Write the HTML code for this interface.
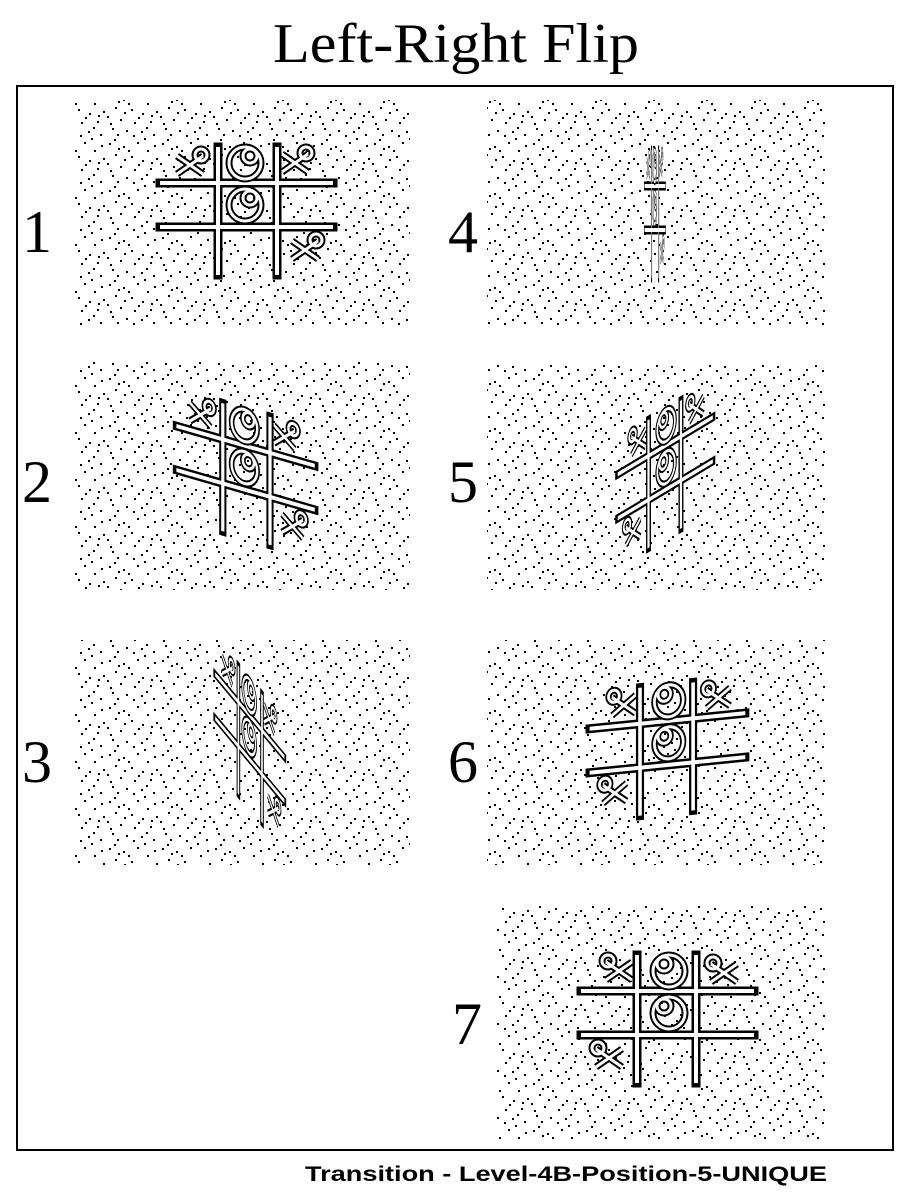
<!DOCTYPE html>
<html><head><meta charset="utf-8"><style>
html,body{margin:0;padding:0;background:#fff;width:912px;height:1200px;overflow:hidden}
</style></head><body>
<svg width="912" height="1200" viewBox="0 0 912 1200" xmlns="http://www.w3.org/2000/svg">
<defs>
<pattern id="st" width="53" height="47" patternUnits="userSpaceOnUse">
<g fill="#000">
<rect x="3" y="2" width="2" height="2"/><rect x="17" y="5" width="2" height="2"/><rect x="31" y="1" width="2" height="2"/><rect x="41" y="9" width="2" height="2"/>
<rect x="9" y="13" width="2" height="2"/><rect x="25" y="15" width="2" height="2"/><rect x="36" y="19" width="2" height="2"/><rect x="1" y="22" width="2" height="2"/>
<rect x="14" y="25" width="2" height="2"/><rect x="28" y="28" width="2" height="2"/><rect x="44" y="27" width="2" height="2"/><rect x="6" y="34" width="2" height="2"/>
<rect x="20" y="36" width="2" height="2"/><rect x="35" y="37" width="2" height="2"/><rect x="11" y="40" width="2" height="2"/><rect x="40" y="33" width="2" height="2"/>
<rect x="22" y="9" width="2" height="2"/><rect x="32" y="23" width="2" height="2"/><rect x="4" y="29" width="2" height="2"/><rect x="27" y="41" width="2" height="2"/>
<rect x="48" y="4" width="2" height="2"/><rect x="50" y="17" width="2" height="2"/><rect x="47" y="40" width="2" height="2"/><rect x="18" y="18" width="2" height="2"/>
<rect x="38" y="44" width="2" height="2"/><rect x="12" y="7" width="2" height="2"/><rect x="45" y="21" width="2" height="2"/><rect x="8" y="45" width="2" height="2"/>
</g></pattern>
<g id="lines">
<line x1="-29" y1="-60" x2="-29" y2="68"/><line x1="30" y1="-60" x2="30" y2="68"/>
<line x1="-87" y1="-24" x2="86" y2="-24"/><line x1="-87" y1="20" x2="86" y2="20"/>
</g>
<g id="xm"><line x1="-13" y1="-9" x2="13" y2="9"/><line x1="-13" y1="9" x2="13" y2="-9"/><circle cx="11" cy="-10" r="6"/></g>
<g id="om"><circle cx="0" cy="0" r="16"/><circle cx="5" cy="-7" r="7"/></g>
<g id="grid">
<g stroke="#000" stroke-width="9" fill="none" stroke-linecap="square"><use href="#lines"/></g>
<g stroke="#fff" stroke-width="4" fill="none"><use href="#lines"/></g>
<g fill="none" stroke="#000" stroke-width="7">
<use href="#xm" x="-57" y="-42"/><use href="#om" x="-2" y="-44"/><use href="#xm" x="48" y="-44"/>
<use href="#om" x="-2" y="-2"/><use href="#xm" x="58" y="43"/></g>
<g fill="none" stroke="#fff" stroke-width="3">
<use href="#xm" x="-57" y="-42"/><use href="#om" x="-2" y="-44"/><use href="#xm" x="48" y="-44"/>
<use href="#om" x="-2" y="-2"/><use href="#xm" x="58" y="43"/></g>
</g>
</defs>
<text x="456" y="62" font-family="Liberation Serif,serif" font-size="56" text-anchor="middle" textLength="366" lengthAdjust="spacingAndGlyphs">Left-Right Flip</text>
<rect x="17" y="86" width="876" height="1064" fill="none" stroke="#000" stroke-width="2"/>
<g fill="url(#st)">
<rect x="75" y="100" width="335" height="225"/>
<rect x="487" y="100" width="338" height="225"/>
<rect x="75" y="362" width="335" height="228"/>
<rect x="487" y="365" width="338" height="225"/>
<rect x="75" y="640" width="335" height="225"/>
<rect x="487" y="640" width="338" height="225"/>
<rect x="497" y="905" width="328" height="235"/>
</g>
<g font-family="Liberation Serif,serif" font-size="60">
<text x="22" y="252">1</text><text x="22" y="502">2</text><text x="22" y="782">3</text>
<text x="448" y="252">4</text><text x="448" y="502">5</text><text x="448" y="782">6</text><text x="452" y="1044">7</text>
</g>
<g transform="translate(247,207)"><use href="#grid"/></g>
<g transform="translate(246,470) matrix(0.8,0.23,0,1,0,0)"><use href="#grid"/></g>
<g transform="translate(250,740) matrix(0.4,0.48,0,1,0,0)"><use href="#grid"/></g>
<g transform="translate(655,210) scale(0.12,1)"><use href="#grid"/></g>
<g transform="translate(665,470) matrix(-0.55,0.33,0,1,0,0)"><use href="#grid"/></g>
<g transform="translate(667,745) matrix(-0.9,0.09,0,1,0,0)"><use href="#grid"/></g>
<g transform="translate(667,1015) scale(-1,1)"><use href="#grid"/></g>
<text x="305" y="1181" font-family="Liberation Sans,sans-serif" font-size="21" font-weight="bold" textLength="522" lengthAdjust="spacingAndGlyphs">Transition - Level-4B-Position-5-UNIQUE</text>
</svg>
</body></html>
